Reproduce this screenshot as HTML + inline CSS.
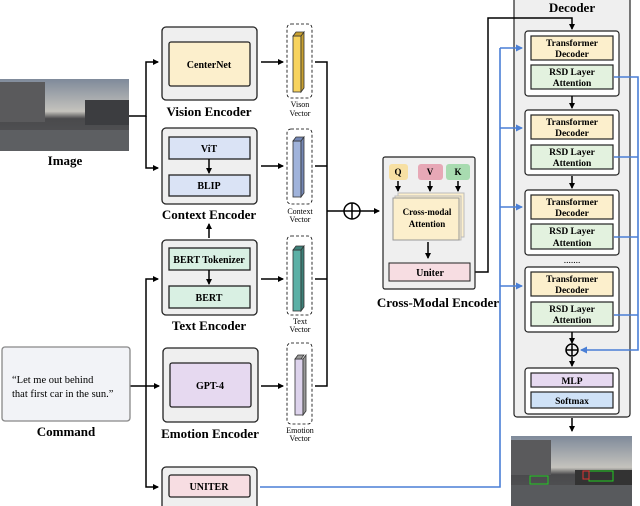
<!DOCTYPE html>
<html><head><meta charset="utf-8"><style>
body{margin:0;background:#fff;}
svg{display:block;font-family:"Liberation Serif",serif;font-weight:bold;}
</style></head><body>
<svg width="640" height="506" viewBox="0 0 640 506" xmlns="http://www.w3.org/2000/svg">
<defs>
<marker id="a" markerWidth="6" markerHeight="6" refX="5" refY="3" orient="auto" markerUnits="userSpaceOnUse"><path d="M0,0 L6,3 L0,6z" fill="#000"/></marker>
<marker id="b" markerWidth="7" markerHeight="7" refX="6" refY="3.5" orient="auto" markerUnits="userSpaceOnUse"><path d="M0,0 L7,3.5 L0,7z" fill="#4a7fd6"/></marker>
<linearGradient id="sky" x1="0" y1="0" x2="0" y2="1"><stop offset="0" stop-color="#7f8a9a"/><stop offset="0.45" stop-color="#c5c3bd"/><stop offset="0.55" stop-color="#4a4a4c"/><stop offset="1" stop-color="#55575a"/></linearGradient>
</defs>
<rect x="514" y="-4" width="116" height="421" rx="3" fill="#efefef" stroke="#222" stroke-width="1.2"/>
<text x="572" y="12" font-size="13" text-anchor="middle">Decoder</text>
<g stroke="#222" stroke-width="1.2">
<rect x="525" y="31" width="94" height="65" rx="3" fill="#fff"/>
<rect x="525" y="110" width="94" height="65" rx="3" fill="#fff"/>
<rect x="525" y="190" width="94" height="65" rx="3" fill="#fff"/>
<rect x="525" y="267" width="94" height="65" rx="3" fill="#fff"/>
<rect x="525" y="368" width="94" height="46" rx="3" fill="#fff"/>
<g fill="#fcefcc"><rect x="531" y="36" width="82" height="24"/><rect x="531" y="115" width="82" height="24"/><rect x="531" y="195" width="82" height="24"/><rect x="531" y="272" width="82" height="24"/></g>
<g fill="#e3f2df"><rect x="531" y="65" width="82" height="24"/><rect x="531" y="145" width="82" height="24"/><rect x="531" y="224" width="82" height="25"/><rect x="531" y="302" width="82" height="24"/></g>
<rect x="531" y="373" width="82" height="14" fill="#e6d9f0"/>
<rect x="531" y="392" width="82" height="16" fill="#cfe2f7"/>
</g>
<g font-size="9.5" text-anchor="middle">
<text x="572" y="46">Transformer</text><text x="572" y="57">Decoder</text>
<text x="572" y="75">RSD Layer</text><text x="572" y="86">Attention</text>
<text x="572" y="125">Transformer</text><text x="572" y="136">Decoder</text>
<text x="572" y="155">RSD Layer</text><text x="572" y="166">Attention</text>
<text x="572" y="205">Transformer</text><text x="572" y="216">Decoder</text>
<text x="572" y="234">RSD Layer</text><text x="572" y="246">Attention</text>
<text x="572" y="282">Transformer</text><text x="572" y="293">Decoder</text>
<text x="572" y="312">RSD Layer</text><text x="572" y="323">Attention</text>
<text x="572" y="384">MLP</text>
<text x="572" y="404">Softmax</text>
<text x="572" y="263" font-weight="normal">.......</text>
</g>

<rect x="0" y="79" width="129" height="72" fill="url(#sky)"/>
<rect x="0" y="82" width="45" height="40" fill="#5a5a5c"/><rect x="85" y="100" width="44" height="25" fill="#3c3d40"/>
<rect x="0" y="130" width="129" height="21" fill="#5d5f62"/>
<text x="65" y="165" font-size="13" text-anchor="middle">Image</text>
<rect x="511" y="436" width="121" height="70" fill="url(#sky)"/>
<rect x="511" y="440" width="40" height="35" fill="#5a5a5c"/><rect x="575" y="470" width="57" height="18" fill="#333"/>
<rect x="511" y="485" width="121" height="21" fill="#585a5d"/>
<rect x="530" y="476" width="18" height="8" fill="none" stroke="#2c2" stroke-width="1"/><rect x="589" y="471" width="24" height="10" fill="none" stroke="#2c2" stroke-width="1"/><rect x="583" y="471" width="6" height="8" fill="none" stroke="#d33" stroke-width="1"/>

<g stroke="#000" stroke-width="1.5" fill="none">
<path d="M129,116 H146 V62 H158" marker-end="url(#a)"/>
<path d="M146,116 V168 H158" marker-end="url(#a)"/>
<path d="M130,386 H159" marker-end="url(#a)"/>
<path d="M146,386 V279 H158" marker-end="url(#a)"/>
<path d="M146,386 V487 H158" marker-end="url(#a)"/>
<path d="M209,238 V224" marker-end="url(#a)"/>
<path d="M261,62 H283" marker-end="url(#a)"/>
<path d="M261,166 H283" marker-end="url(#a)"/>
<path d="M261,279 H283" marker-end="url(#a)"/>
<path d="M261,386 H283" marker-end="url(#a)"/>
<path d="M315,62 H327 V386 H315"/>
<path d="M315,166 H327 M315,279 H327"/>
<path d="M327,211 H344"/>
<path d="M360,211 H379" marker-end="url(#a)"/>
<circle cx="352" cy="211" r="8"/><path d="M344,211 H360 M352,203 V219"/>
<path d="M470,272 H488 V18 H572 V29" marker-end="url(#a)"/>
<path d="M572,96 V108" marker-end="url(#a)"/>
<path d="M572,176 V188" marker-end="url(#a)"/>
<path d="M572,332 V343" marker-end="url(#a)"/>
<path d="M572,357 V366" marker-end="url(#a)"/>
<path d="M572,418 V431" marker-end="url(#a)"/>
<circle cx="572" cy="350" r="6"/><path d="M566,350 H578 M572,344 V356"/>
</g>

<g stroke="#222" stroke-width="1.3">
<rect x="162" y="27" width="95" height="73" rx="4" fill="#efefef"/>
<rect x="169" y="42" width="81" height="44" rx="2" fill="#fcefcc"/>
<rect x="162" y="128" width="95" height="76" rx="4" fill="#efefef"/>
<rect x="169" y="137" width="81" height="22" fill="#dae3f5"/>
<rect x="169" y="175" width="81" height="21" fill="#dae3f5"/>
<rect x="162" y="240" width="95" height="75" rx="4" fill="#efefef"/>
<rect x="169" y="248" width="81" height="22" fill="#d9f0e3"/>
<rect x="169" y="286" width="81" height="22" fill="#d9f0e3"/>
<rect x="163" y="348" width="95" height="74" rx="4" fill="#efefef"/>
<rect x="170" y="363" width="81" height="44" rx="2" fill="#e6d9f0"/>
<rect x="162" y="467" width="95" height="45" rx="4" fill="#efefef"/>
<rect x="169" y="475" width="81" height="22" rx="2" fill="#f7dde2"/>
<rect x="2" y="347" width="128" height="74" rx="3" fill="#f2f3f7" stroke="#888"/>
</g>
<g stroke="#000" stroke-width="1.5" fill="none">
<path d="M209,159 V173" marker-end="url(#a)"/>
<path d="M209,270 V284" marker-end="url(#a)"/>
</g>
<g stroke="#000" stroke-width="0.8" fill="none" stroke-dasharray="3,2">
<rect x="287" y="24" width="25" height="74" rx="4"/>
<rect x="287" y="129" width="25" height="75" rx="4"/>
<rect x="287" y="236" width="25" height="79" rx="4"/>
<rect x="287" y="343" width="25" height="81" rx="4"/>
</g>
<g stroke="#333" stroke-width="0.8">
<rect x="293" y="36" width="8" height="56" fill="#f7d35e"/><path d="M293,36 l3,-4 h8 l-3,4z M301,36 l3,-4 v56 l-3,4z" fill="#c8a030"/>
<rect x="293" y="141" width="8" height="56" fill="#a0b3db"/><path d="M293,141 l3,-4 h8 l-3,4z M301,141 l3,-4 v56 l-3,4z" fill="#7487b5"/>
<rect x="293" y="250" width="8" height="61" fill="#5cb0a6"/><path d="M293,250 l3,-4 h8 l-3,4z M301,250 l3,-4 v61 l-3,4z" fill="#3c8078"/>
<rect x="295" y="359" width="8" height="56" fill="#ddd3ec"/><path d="M295,359 l3,-4 h6 l-3,4z M303,359 l3,-4 v56 l-3,4z" fill="#999"/>
</g>
<g font-size="10" text-anchor="middle">
<text x="209" y="68">CenterNet</text>
<text x="209" y="152">ViT</text>
<text x="209" y="189">BLIP</text>
<text x="209" y="263">BERT Tokenizer</text>
<text x="209" y="301">BERT</text>
<text x="210" y="389">GPT-4</text>
<text x="209" y="490">UNITER</text>
</g>
<g font-size="13" text-anchor="middle">
<text x="209" y="116">Vision Encoder</text>
<text x="209" y="219">Context Encoder</text>
<text x="209" y="330">Text Encoder</text>
<text x="210" y="438">Emotion Encoder</text>
<text x="66" y="436">Command</text>
<text x="438" y="307">Cross-Modal Encoder</text>
</g>
<g font-size="8" text-anchor="middle" font-weight="normal">
<text x="300" y="107">Vison</text><text x="300" y="116">Vector</text>
<text x="300" y="214">Context</text><text x="300" y="222">Vector</text>
<text x="300" y="324">Text</text><text x="300" y="332">Vector</text>
<text x="300" y="433">Emotion</text><text x="300" y="441">Vector</text>
</g>
<g font-size="10.5" font-weight="normal">
<text x="12" y="383">“Let me out behind</text>
<text x="12" y="397">that first car in the sun.”</text>
</g>

<rect x="383" y="157" width="92" height="132" rx="2" fill="#efefef" stroke="#222" stroke-width="1.2"/>
<rect x="389" y="164" width="19" height="16" rx="3" fill="#f7e0a3"/>
<rect x="418" y="164" width="25" height="16" rx="3" fill="#e7a8b6"/>
<rect x="446" y="164" width="24" height="16" rx="3" fill="#a8dbb0"/>
<g font-size="9" text-anchor="middle"><text x="398" y="175">Q</text><text x="430" y="175">V</text><text x="458" y="175">K</text></g>
<g stroke="#bbb" stroke-width="1" fill="#fcefcc">
<rect x="398" y="193" width="66" height="44"/>
<rect x="395" y="196" width="66" height="44"/>
<rect x="393" y="198" width="66" height="42" stroke="#999"/>
</g>
<text x="427" y="215" font-size="9" text-anchor="middle">Cross-modal</text>
<text x="427" y="227" font-size="9" text-anchor="middle">Attention</text>
<rect x="389" y="263" width="81" height="18" fill="#f7dde2" stroke="#222" stroke-width="1"/>
<text x="430" y="276" font-size="10" text-anchor="middle">Uniter</text>
<g stroke="#000" stroke-width="1.5" fill="none">
<path d="M428,242 V258" marker-end="url(#a)"/>
<path d="M398,181 V191" marker-end="url(#a)"/>
<path d="M430,181 V191" marker-end="url(#a)"/>
<path d="M458,181 V191" marker-end="url(#a)"/>
</g>

<g stroke="#4a7fd6" stroke-width="1.6" fill="none">
<path d="M260,487 H500 V48"/>
<path d="M500,48 H522" marker-end="url(#b)"/>
<path d="M500,128 H522" marker-end="url(#b)"/>
<path d="M500,207 H522" marker-end="url(#b)"/>
<path d="M500,286 H522" marker-end="url(#b)"/>
<path d="M614,77 H638 V350 H581" marker-end="url(#b)"/>
<path d="M614,157 H638 M614,237 H638 M614,315 H638"/>
</g>
</svg>
</body></html>
